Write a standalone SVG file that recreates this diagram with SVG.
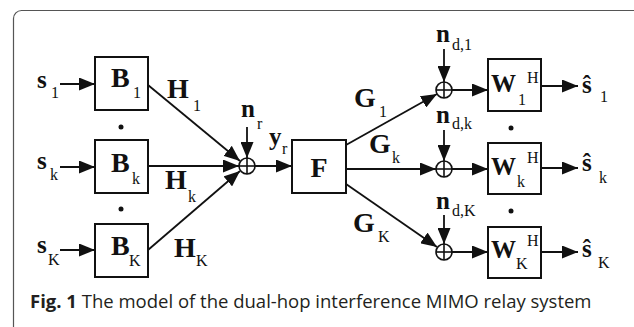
<svg xmlns="http://www.w3.org/2000/svg" width="634" height="327" viewBox="0 0 634 327">
<defs>
<marker id="ah" markerUnits="userSpaceOnUse" markerWidth="17" markerHeight="13" refX="16" refY="6.5" orient="auto">
<path d="M0,0 L16,6.5 L0,13 z" fill="#111"/>
</marker>
<style>
.box{fill:#fff;stroke:#111;stroke-width:2}
.ln{stroke:#111;stroke-width:1.6;fill:none}
.ar{stroke:#111;stroke-width:1.8;fill:none;marker-end:url(#ah)}
.sum{fill:#fff;stroke:#111;stroke-width:1.6}
.big{font-family:"Liberation Serif",serif;font-weight:bold;font-size:28px;fill:#111}
.w{font-size:25px}
.low{font-family:"Liberation Serif",serif;font-weight:bold;font-size:25px;fill:#111}
.sub{font-family:"Liberation Serif",serif;font-size:16px;fill:#111}
.cap{font-family:"Open Sans",sans-serif;font-size:18.5px;fill:#231f20}
.dot{fill:#111}
</style>
</defs>
<rect x="13.5" y="10.5" width="640" height="340" rx="8" fill="#fff" stroke="#555" stroke-width="1.2"/>

<g id="connectors">
<line class="ar" x1="60" y1="84" x2="95" y2="84"/>
<line class="ar" x1="60" y1="167" x2="95" y2="167"/>
<line class="ar" x1="60" y1="250" x2="95" y2="250"/>
<line class="ar" x1="148" y1="85" x2="240" y2="161"/>
<line class="ar" x1="148" y1="166" x2="239" y2="166"/>
<line class="ar" x1="148" y1="250" x2="240" y2="171"/>
<line class="ar" x1="247" y1="127" x2="247" y2="158"/>
<line class="ar" x1="255" y1="166" x2="292" y2="166"/>
<line class="ar" x1="346" y1="145" x2="437" y2="94"/>
<line class="ar" x1="346" y1="169" x2="436" y2="169"/>
<line class="ar" x1="346" y1="184" x2="437" y2="247"/>
<line class="ar" x1="444" y1="49" x2="444" y2="82"/>
<line class="ar" x1="444" y1="130" x2="444" y2="161"/>
<line class="ar" x1="444" y1="215" x2="444" y2="244"/>
<line class="ar" x1="452" y1="90" x2="488" y2="90"/>
<line class="ar" x1="452" y1="169" x2="488" y2="169"/>
<line class="ar" x1="452" y1="252" x2="488" y2="252"/>
<line class="ar" x1="541" y1="86" x2="578" y2="86"/>
<line class="ar" x1="541" y1="168" x2="578" y2="168"/>
<line class="ar" x1="541" y1="252" x2="578" y2="252"/>
</g>

<g id="s1"><text class="low" x="37" y="88">s</text><text class="sub" x="51" y="98">1</text></g>
<g id="sk"><text class="low" x="37" y="169">s</text><text class="sub" x="50" y="180">k</text></g>
<g id="sK"><text class="low" x="37" y="253">s</text><text class="sub" x="48" y="265">K</text></g>

<g id="B1"><rect class="box" x="95" y="57" width="53" height="53"/><text class="big" x="111" y="87">B</text><text class="sub" x="133" y="98">1</text></g>
<g id="Bk"><rect class="box" x="95" y="140" width="53" height="53"/><text class="big" x="111" y="172">B</text><text class="sub" x="132" y="184">k</text></g>
<g id="BK"><rect class="box" x="95" y="224" width="53" height="53"/><text class="big" x="111" y="255">B</text><text class="sub" x="129" y="266">K</text></g>
<g id="dotsB"><circle class="dot" cx="121" cy="127" r="2.5"/><circle class="dot" cx="121" cy="209" r="2.5"/></g>

<g id="H1"><text class="big" x="167" y="98">H</text><text class="sub" x="193" y="111">1</text></g>
<g id="Hk"><text class="big" x="165" y="189">H</text><text class="sub" x="188" y="202">k</text></g>
<g id="HK"><text class="big" x="174" y="257">H</text><text class="sub" x="196" y="266">K</text></g>

<g id="sumR"><circle class="sum" cx="247" cy="166" r="8"/><line class="ln" x1="239" y1="166" x2="255" y2="166"/><line class="ln" x1="247" y1="158" x2="247" y2="174"/></g>
<g id="nr"><text class="low" x="241" y="117">n</text><text class="sub" x="257" y="129">r</text></g>
<g id="yr"><text class="low" x="269" y="145">y</text><text class="sub" x="282" y="154">r</text></g>

<g id="F"><rect class="box" x="292" y="140" width="54" height="53"/><text class="big" x="319" y="177" text-anchor="middle">F</text></g>

<g id="G1"><text class="big" x="354" y="107">G</text><text class="sub" x="379" y="117">1</text></g>
<g id="Gk"><text class="big" x="369" y="153">G</text><text class="sub" x="392" y="163">k</text></g>
<g id="GK"><text class="big" x="353" y="232">G</text><text class="sub" x="378" y="242">K</text></g>

<g id="sum1"><circle class="sum" cx="444" cy="90" r="8"/><line class="ln" x1="436" y1="90" x2="452" y2="90"/><line class="ln" x1="444" y1="82" x2="444" y2="98"/></g>
<g id="sumk"><circle class="sum" cx="444" cy="169" r="8"/><line class="ln" x1="436" y1="169" x2="452" y2="169"/><line class="ln" x1="444" y1="161" x2="444" y2="177"/></g>
<g id="sumK"><circle class="sum" cx="444" cy="252" r="8"/><line class="ln" x1="436" y1="252" x2="452" y2="252"/><line class="ln" x1="444" y1="244" x2="444" y2="260"/></g>

<g id="nd1"><text class="low" x="436" y="42">n</text><text class="sub" x="452" y="50">d,1</text></g>
<g id="ndk"><text class="low" x="436" y="123">n</text><text class="sub" x="452" y="129">d,k</text></g>
<g id="ndK"><text class="low" x="436" y="209">n</text><text class="sub" x="452" y="216">d,K</text></g>

<g id="W1"><rect class="box" x="488" y="59" width="53" height="52"/><text class="big w" x="491" y="92">W</text><text class="sub" x="518" y="105">1</text><text class="sub" x="527" y="83">H</text></g>
<g id="Wk"><rect class="box" x="488" y="143" width="53" height="51"/><text class="big w" x="491" y="175">W</text><text class="sub" x="517" y="187">k</text><text class="sub" x="527" y="163">H</text></g>
<g id="WK"><rect class="box" x="488" y="227" width="53" height="51"/><text class="big w" x="491" y="258">W</text><text class="sub" x="516" y="269">K</text><text class="sub" x="527" y="246">H</text></g>
<g id="dotsW"><circle class="dot" cx="511" cy="128" r="2.5"/><circle class="dot" cx="511" cy="211" r="2.5"/></g>

<g id="sh1"><text class="low" x="582" y="93">ŝ</text><text class="sub" x="600" y="102">1</text></g>
<g id="shk"><text class="low" x="582" y="171">ŝ</text><text class="sub" x="599" y="183">k</text></g>
<g id="shK"><text class="low" x="582" y="257">ŝ</text><text class="sub" x="598" y="268">K</text></g>

<text class="cap" x="30" y="308"><tspan font-weight="bold">Fig. 1</tspan> The model of the dual-hop interference MIMO relay system</text>
</svg>
